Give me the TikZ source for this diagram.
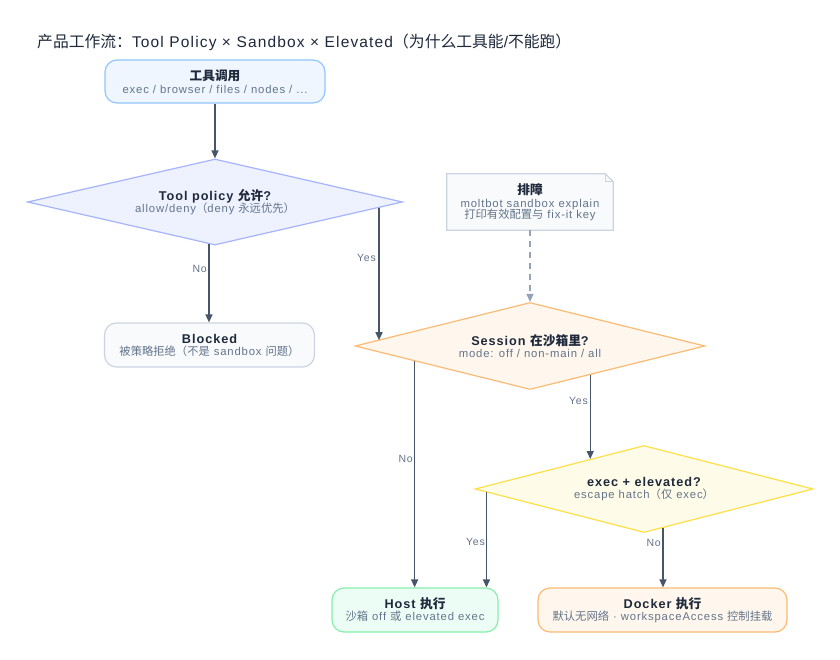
\documentclass[tikz,border=0pt]{standalone}
\usepackage{fontspec}
\setmainfont{Liberation Sans}[LetterSpace=7.5]
\newfontfamily\cjk{Noto Sans CJK SC}
\newcommand\C[1]{{\cjk #1}}
\newcommand\TC[1]{{\cjk\fontsize{15.8}{17}\selectfont #1}}
\usetikzlibrary{arrows.meta,shapes.geometric,calc}
\definecolor{ink}{HTML}{1E293B}
\definecolor{subc}{HTML}{64748B}
\definecolor{arrowc}{HTML}{475569}
\definecolor{dashc}{HTML}{94A3B8}
\definecolor{blueF}{HTML}{EFF6FF}\definecolor{blueD}{HTML}{93C5FD}
\definecolor{indF}{HTML}{EEF2FF}\definecolor{indD}{HTML}{A5B4FC}
\definecolor{grayF}{HTML}{F8FAFC}\definecolor{grayD}{HTML}{CBD5E1}
\definecolor{orF}{HTML}{FFF7ED}\definecolor{orD}{HTML}{FDBA74}
\definecolor{yeF}{HTML}{FEFCE8}\definecolor{yeD}{HTML}{FDE047}
\definecolor{grF}{HTML}{ECFDF5}\definecolor{grD}{HTML}{86EFAC}
\newcommand\Sub[1]{{\mdseries\fontsize{11.3}{12}\selectfont\color{subc}#1}}
\begin{document}
\begin{tikzpicture}[x=1pt,y=-1pt,
  box/.style={rectangle, rounded corners=12pt, draw, line width=1.2pt, inner sep=0pt, align=center, text=ink,
    font=\fontsize{12.7}{13}\selectfont\bfseries},
  dia/.style={diamond, shape aspect=4.3, draw, line width=1.2pt, inner sep=0pt, align=center, text=ink,
    font=\fontsize{12.7}{13}\selectfont\bfseries},
  arr/.style={draw=arrowc, line width=1.4pt, -{Triangle[length=8pt,width=7pt]}},
  dsh/.style={draw=dashc, line width=1.3pt, dash pattern=on 6pt off 5pt, -{Triangle[length=8pt,width=7pt]}},
  lab/.style={font=\fontsize{10.5}{12}\selectfont, text=subc, anchor=east, inner sep=1pt}]
\useasboundingbox (0,0) rectangle (840,660);
\fill[white] (0,0) rectangle (840,660);

\node[anchor=west, inner sep=0pt, text=ink, font=\fontsize{15.5}{17}\selectfont] (title) at (37,42)
  {\TC{产品工作流：}Tool Policy × Sandbox × Elevated\TC{（为什么工具能}/\TC{不能跑）}};

\node[box, fill=blueF, draw=blueD, minimum width=220pt, minimum height=43pt] (top) at (215,81.5)
  {\C{工具调用}\\ \Sub{exec / browser / files / nodes / ...}};

\node[dia, fill=indF, draw=indD, minimum width=375pt, minimum height=86pt] (d1) at (215,202)
  {Tool policy \C{允许}?\\[-1pt] \Sub{allow/deny\C{（}deny \C{永远优先）}}};

\node[box, fill=grayF, draw=grayD, minimum width=210pt, minimum height=44pt] (blocked) at (209.5,345)
  {Blocked\\[-1pt] \Sub{\C{被策略拒绝（不是} sandbox \C{问题）}}};

\node[rectangle, inner sep=0pt, minimum width=166pt, minimum height=56pt] (note) at (530,202) {};
\filldraw[fill=grayF, draw=grayD, line width=1.2pt]
  (note.south west) -- (note.north west) -- ([xshift=-8pt]note.north east)
  -- ([yshift=-8pt]note.north east) -- (note.south east) -- cycle;
\draw[grayD, line width=1pt] ([xshift=-8pt]note.north east) -- ([xshift=-8pt,yshift=-8pt]note.north east)
  -- ([yshift=-8pt]note.north east);
\node[rectangle, inner sep=0pt, align=center, text=ink, font=\fontsize{12.7}{13}\selectfont\bfseries]
  (notetext) at (note.center) {\C{排障}\\ \Sub{moltbot sandbox explain}\\[-1.5pt] \Sub{\C{打印有效配置与} fix-it key}};

\node[dia, fill=orF, draw=orD, minimum width=350pt, minimum height=87pt] (d2) at (530,346)
  {Session \C{在沙箱里}?\\[-1pt] \Sub{mode: off / non-main / all}};

\node[dia, fill=yeF, draw=yeD, minimum width=338pt, minimum height=87pt] (d3) at (644,489)
  {exec + elevated?\\[-1pt] \Sub{escape hatch\C{（仅} exec\C{）}}};

\node[box, fill=grF, draw=grD, minimum width=166pt, minimum height=44pt] (host) at (415,610)
  {Host \C{执行}\\[-1pt] \Sub{\C{沙箱} off \C{或} elevated exec}};

\node[box, fill=orF, draw=orD, minimum width=249pt, minimum height=44pt] (docker) at (662.5,610)
  {Docker \C{执行}\\[-1pt] \Sub{\C{默认无网络} · workspaceAccess \C{控制挂载}}};

% connectors
\draw[arr] (top.south) -- (d1.north);

\coordinate (n1) at ($(d1.south)!0.032!(d1.west)$);
\draw[arr] (n1) -- (n1 |- blocked.north);

\coordinate (y1) at ($(d1.east)!0.128!(d1.south)$);
\coordinate (y1e) at ($(d2.west)!0.131!(d2.north)$);
\draw[arr] (y1) -- (y1 |- y1e);

\draw[dsh] (d2.north |- note.south) -- (d2.north);

\coordinate (n2) at ($(d2.south)!0.657!(d2.west)$);
\draw[arr] (n2) -- (n2 |- host.north);

\coordinate (y2) at ($(d2.south)!0.343!(d2.east)$);
\coordinate (y2e) at ($(d3.west)!0.68!(d3.north)$);
\draw[arr] (y2) -- (y2 |- y2e);

\coordinate (y3) at ($(d3.west)!0.071!(d3.south)$);
\draw[arr] (y3) -- (y3 |- host.north);

\coordinate (n3) at ($(d3.east)!0.888!(d3.south)$);
\draw[arr] (n3) -- (n3 |- docker.north);

% labels
\node[lab] (lno1) at (208,269) {No};
\node[lab] (lyes1) at (377,258) {Yes};
\node[lab] (lno2) at (414,459) {No};
\node[lab] (lyes2) at (589,401) {Yes};
\node[lab] (lyes3) at (486,542) {Yes};
\node[lab] (lno3) at (662,543) {No};
\end{tikzpicture}
\end{document}
